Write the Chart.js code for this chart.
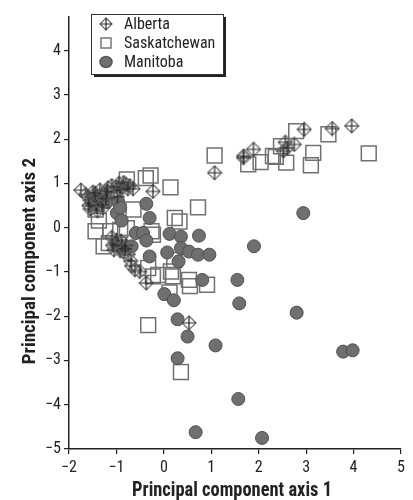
<!DOCTYPE html>
<html>
<head>
<meta charset="utf-8">
<script src="https://cdn.jsdelivr.net/npm/chart.js@4.4.1/dist/chart.umd.min.js"></script>
<style>body{margin:0;background:#fff}</style>
</head>
<body>
<canvas id="pca" width="413" height="500"></canvas>
<script>
// values: [pc1, pc2]
const albertaPts = [
  [2.96, 2.22], [3.55, 2.24], [3.96, 2.30], [2.56, 1.93], [2.75, 1.88], [2.52, 1.73],
  [2.60, 1.80], [1.89, 1.77], [1.68, 1.62], [1.68, 1.58], [1.07, 1.24],
  [-0.23, 0.82], [0.53, -2.15], [-0.37, -1.25], [-0.61, -0.95], [-0.68, -0.86], [-0.51, -0.99],
  [-1.75, 0.85], [-1.65, 0.75], [-1.55, 0.62], [-1.50, 0.80], [-1.45, 0.55], [-1.40, 0.70],
  [-1.35, 0.85], [-1.30, 0.60], [-1.28, 0.45], [-1.25, 0.75], [-1.18, 0.90], [-1.10, 0.95],
  [-1.05, 0.80], [-0.95, 1.00], [-0.88, 0.92], [-0.80, 0.98], [-0.72, 0.95], [-0.65, 0.88],
  [-1.55, 0.42], [-1.40, 0.38], [-0.98, 0.70],
  [-1.60, 0.70], [-1.52, 0.55], [-1.48, 0.66], [-1.42, 0.48], [-1.38, 0.60], [-1.33, 0.72],
  [-1.30, 0.52], [-1.22, 0.66], [-1.45, 0.78], [-1.58, 0.50], [-1.20, 0.82], [-1.00, 0.92],
  [-0.92, 0.85], [-0.85, 1.02], [-0.76, 0.88],
  [-1.10, -0.22], [-1.02, -0.35], [-0.95, -0.45], [-0.90, -0.30], [-0.85, -0.55],
  [-0.80, -0.40], [-0.75, -0.60], [-1.05, -0.50], [-0.70, -0.75],
  [-1.00, -0.28], [-0.97, -0.38], [-0.92, -0.52], [-0.88, -0.42], [-0.82, -0.48], [-1.08, -0.40]
];
const saskPts = [
  [2.79, 2.18], [3.47, 2.11], [3.15, 1.69], [3.10, 1.41], [4.32, 1.68], [2.58, 1.47],
  [2.36, 1.60], [2.47, 1.84], [2.04, 1.48], [1.78, 1.43], [2.30, 1.62], [1.07, 1.63],
  [0.72, 0.46], [0.14, 0.91], [0.23, 0.22], [0.33, 0.14], [-0.28, 1.18], [-0.38, 1.12],
  [-0.23, -0.16], [-1.37, 0.16], [-1.13, -0.08], [-0.92, -0.05], [-1.16, -0.35], [-0.64, 0.41],
  [-0.26, -0.08], [0.22, -0.73], [0.53, -1.18], [-0.12, -1.07], [0.12, -1.46], [-0.78, -0.01],
  [0.19, -1.10], [0.55, -1.32], [0.91, -1.29], [-1.44, -0.08], [-0.33, -0.91], [-0.23, -1.10],
  [0.15, -0.99], [-0.33, -2.20], [0.36, -3.26], [-1.27, -0.42], [-0.78, 1.09], [-1.44, 0.41]
];
const manitobaPts = [
  [-1.20, 0.58], [-0.96, 0.58], [-0.99, 0.33], [-0.89, 0.16], [-0.92, 0.45], [-0.37, 0.54],
  [-0.30, 0.22], [-0.59, -0.12], [-0.44, -0.12], [-0.37, -0.29], [-0.68, -0.42], [-0.30, -0.65],
  [0.12, -0.14], [0.36, -0.20], [0.36, -0.46], [0.07, -0.56], [0.31, -0.76], [0.53, -0.54],
  [0.72, -0.61], [0.96, -0.61], [0.74, -0.18], [0.81, -1.18], [0.01, -1.50], [0.21, -1.64],
  [0.29, -2.07], [0.50, -2.46], [0.29, -2.95], [0.67, -4.62], [2.07, -4.75], [1.57, -3.87],
  [1.09, -2.66], [1.59, -1.71], [1.55, -1.18], [2.80, -1.92], [3.78, -2.80], [3.98, -2.77],
  [1.90, -0.42], [2.94, 0.33]
];
const seriesNames = ['Alberta', 'Saskatchewan', 'Manitoba'];
const axisTitles = ['Principal component axis 1', 'Principal component axis 2'];
const xTicks = [-2, -1, 0, 1, 2, 3, 4, 5];
const yTicks = [-5, -4, -3, -2, -1, 0, 1, 2, 3, 4];

const FONT = "'Roboto Condensed', 'DejaVu Sans Condensed', sans-serif";
const INK = '#222';

function crossDiamond(size, r) {
  const c = document.createElement('canvas');
  c.width = c.height = size;
  const g = c.getContext('2d');
  const m = size / 2;
  g.lineWidth = 1.2;
  g.strokeStyle = '#666';
  g.beginPath();
  g.moveTo(m, m - r); g.lineTo(m + r, m); g.lineTo(m, m + r); g.lineTo(m - r, m);
  g.closePath();
  g.stroke();
  g.strokeStyle = '#222';
  g.beginPath();
  g.moveTo(m, m - r); g.lineTo(m, m + r);
  g.moveTo(m - r, m); g.lineTo(m + r, m);
  g.stroke();
  return c;
}

const toXY = pts => pts.map(p => ({ x: p[0], y: p[1] }));
const minus = v => String(v).replace('-', '\u2212');

// axis titles sit a little off-centre in the original, so they are drawn by hand
const axisTitlePlugin = {
  id: 'axisTitlePlugin',
  afterDraw(chart) {
    const ctx = chart.ctx;
    ctx.save();
    ctx.fillStyle = INK;
    ctx.textAlign = 'center';
    ctx.textBaseline = 'alphabetic';
    ctx.save();
    ctx.font = 'bold 20px ' + FONT;
    ctx.translate(232, 496);
    ctx.scale(0.92, 1);
    ctx.fillText(axisTitles[0], 0, 0);
    ctx.restore();
    ctx.save();
    ctx.font = 'bold 19px ' + FONT;
    ctx.translate(35, 261);
    ctx.rotate(-Math.PI / 2);
    ctx.fillText(axisTitles[1], 0, 0);
    ctx.restore();
    ctx.restore();
  }
};

// boxed legend in the top-left corner of the plot
const boxLegend = {
  id: 'boxLegend',
  afterDraw(chart) {
    const ctx = chart.ctx;
    const x = 91, y = 14, w = 132, h = 60;
    ctx.save();
    ctx.fillStyle = '#222';
    ctx.fillRect(x + 3, y + 3, w, h);
    ctx.fillStyle = '#fff';
    ctx.fillRect(x, y, w, h);
    ctx.strokeStyle = '#333';
    ctx.lineWidth = 1;
    ctx.strokeRect(x + 0.5, y + 0.5, w, h);
    ctx.font = '16px ' + FONT;
    ctx.textBaseline = 'middle';
    const mx = 106;
    seriesNames.forEach((name, i) => {
      const cy = 24 + i * 19;
      if (i === 0) {
        ctx.drawImage(crossDiamond(14, 6), mx - 7, cy - 7);
      } else if (i === 1) {
        ctx.strokeStyle = '#777';
        ctx.lineWidth = 1.5;
        ctx.strokeRect(mx - 5, cy - 5, 10, 10);
      } else {
        ctx.fillStyle = '#6f6f6f';
        ctx.strokeStyle = '#555';
        ctx.beginPath();
        ctx.ellipse(mx, cy, 6, 5.5, 0, 0, Math.PI * 2);
        ctx.fill();
        ctx.stroke();
      }
      ctx.fillStyle = INK;
      ctx.fillText(name, 124, cy + 1);
    });
    ctx.restore();
  }
};

new Chart(document.getElementById('pca'), {
  type: 'scatter',
  data: {
    datasets: [
      {
        label: seriesNames[0],
        data: toXY(albertaPts),
        pointStyle: crossDiamond(16, 7),
        order: 0
      },
      {
        label: seriesNames[1],
        data: toXY(saskPts),
        pointStyle: 'rect',
        pointRadius: 10.5,
        backgroundColor: 'rgba(0,0,0,0)',
        borderColor: '#707070',
        borderWidth: 1.5,
        order: 2
      },
      {
        label: seriesNames[2],
        data: toXY(manitobaPts),
        pointStyle: 'circle',
        pointRadius: 6.5,
        backgroundColor: '#6f6f6f',
        borderColor: '#4f4f4f',
        borderWidth: 1,
        order: 1
      }
    ]
  },
  options: {
    responsive: false,
    animation: false,
    layout: { padding: { top: 17, right: 6, left: 0, bottom: 0 } },
    plugins: { legend: { display: false }, tooltip: { enabled: false } },
    scales: {
      x: {
        type: 'linear',
        min: -2,
        max: 5,
        afterBuildTicks: axis => { axis.ticks = xTicks.map(v => ({ value: v })); },
        afterFit: axis => { axis.height = 51; },
        grid: { drawOnChartArea: false, drawTicks: true, tickLength: 5, color: INK, lineWidth: 1.2 },
        border: { color: INK, width: 1.5 },
        ticks: { color: INK, padding: 4, font: { family: FONT, size: 16 }, callback: minus }
      },
      y: {
        type: 'linear',
        min: -5,
        max: 4.76,
        afterBuildTicks: axis => { axis.ticks = yTicks.map(v => ({ value: v })); },
        afterFit: axis => { axis.width = 69; },
        grid: { drawOnChartArea: false, drawTicks: true, tickLength: 5, color: INK, lineWidth: 1.2 },
        border: { color: INK, width: 1.5 },
        ticks: { color: INK, padding: 3, font: { family: FONT, size: 16 }, callback: minus }
      }
    }
  },
  plugins: [boxLegend, axisTitlePlugin]
});
</script>
</body>
</html>
